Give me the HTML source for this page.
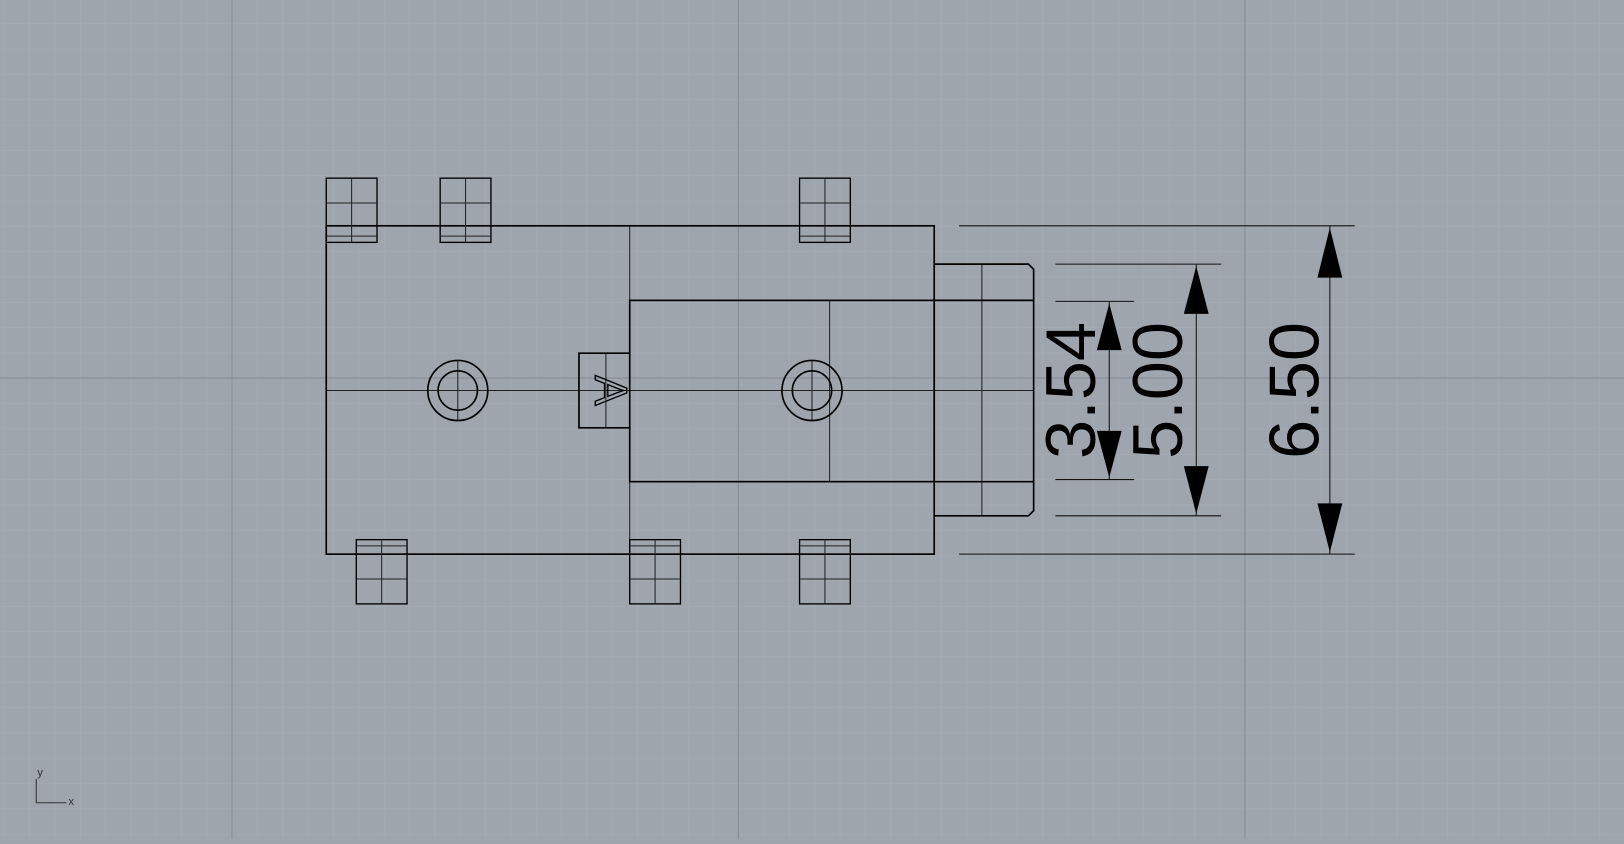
<!DOCTYPE html>
<html><head><style>html,body{margin:0;padding:0;background:#9ea5ac;overflow:hidden}</style></head>
<body>
<svg width="1624" height="839" viewBox="0 0 1568 810" preserveAspectRatio="none" xmlns="http://www.w3.org/2000/svg">
<defs>
<pattern id="g" x="224" y="365" width="24.45" height="24.45" patternUnits="userSpaceOnUse">
<path d="M0 0H24.45M0 0V24.45" stroke="#a6adb4" stroke-width="1" fill="none"/>
</pattern>
</defs>
<rect width="1568" height="810" fill="#9ea5ac"/>
<rect width="1568" height="810" fill="url(#g)"/>
<g stroke="#878e95" stroke-width="1">
<line x1="224" y1="0" x2="224" y2="810"/><line x1="713" y1="0" x2="713" y2="810"/><line x1="1202" y1="0" x2="1202" y2="810"/>
<line x1="0" y1="365" x2="1568" y2="365"/>
</g>
<g fill="none" stroke="#000">
<!-- thin lines -->
<g stroke-width="1" stroke="#222">
<line x1="608" y1="218" x2="608" y2="535"/>
<line x1="801" y1="290" x2="801" y2="465"/>
<line x1="315" y1="377" x2="998" y2="377"/>
<line x1="948" y1="255" x2="948" y2="498"/>
<line x1="585" y1="341" x2="585" y2="413"/>
<line x1="442" y1="348" x2="442" y2="406"/><line x1="784" y1="348" x2="784" y2="406"/>
</g>
<g stroke-width="1.6">
<rect x="315" y="218" width="587" height="317"/>
<rect x="608" y="290" width="294" height="175"/>
<path d="M902 255H993L998 260V493L993 498H902"/>
<line x1="902" y1="290" x2="998" y2="290"/><line x1="902" y1="465" x2="998" y2="465"/>
<path d="M608 341H559V413H608"/>
<circle cx="442" cy="377" r="29"/><circle cx="442" cy="377" r="19"/>
<circle cx="784" cy="377" r="29"/><circle cx="784" cy="377" r="19"/>
</g>
<!-- top tabs -->
<g stroke-width="1.3">
<rect x="315" y="172" width="49" height="62"/><rect x="425" y="172" width="49" height="62"/><rect x="772" y="172" width="49" height="62"/>
<rect x="344" y="521" width="49" height="62"/><rect x="608" y="521" width="49" height="62"/><rect x="772" y="521" width="49" height="62"/>
</g>
<g stroke-width="1" stroke="#222">
<path d="M339.5 172V234M449.5 172V234M796.5 172V234M368.5 521V583M632.5 521V583M796.5 521V583"/>
<path d="M315 196H364M425 196H474M772 196H821M315 228H364M425 228H474M772 228H821"/>
<path d="M344 527H393M608 527H657M772 527H821M344 559H393M608 559H657M772 559H821"/>
</g>
<!-- dimensions -->
<g stroke-width="1" stroke="#111">
<line x1="926" y1="218" x2="1308" y2="218"/><line x1="926" y1="535" x2="1308" y2="535"/>
<line x1="1019" y1="255" x2="1179" y2="255"/><line x1="1019" y1="498" x2="1179" y2="498"/>
<line x1="1019" y1="291" x2="1095" y2="291"/><line x1="1019" y1="463" x2="1095" y2="463"/>
<line x1="1284" y1="218" x2="1284" y2="535"/>
<line x1="1155" y1="255" x2="1155" y2="498"/>
<line x1="1071" y1="291" x2="1071" y2="463"/>
</g>
</g>
<g fill="#000">
<path d="M1284 220L1272 268H1296Z"/><path d="M1284 533L1272 486H1296Z"/>
<path d="M1155 257L1143 303H1167Z"/><path d="M1155 496L1143 450H1167Z"/>
<path d="M1071 293L1059 338H1083Z"/><path d="M1071 461L1059 416H1083Z"/>
</g>
<g font-family="Liberation Sans, sans-serif" font-size="68" fill="#000" text-anchor="middle">
<text transform="translate(1273,377) rotate(-90)">6.50</text>
<text transform="translate(1141,377) rotate(-90)">5.00</text>
<text transform="translate(1057,377) rotate(-90)">3.54</text>
</g>
<text transform="translate(575,377) rotate(90)" font-family="Liberation Sans, sans-serif" font-size="44" fill="none" stroke="#000" stroke-width="1.3" text-anchor="middle">A</text>
<g stroke="#333" stroke-width="1" fill="none"><path d="M35 752V775H64"/></g>
<text x="36" y="749" font-family="Liberation Sans, sans-serif" font-size="11" fill="#333">y</text>
<text x="66" y="777" font-family="Liberation Sans, sans-serif" font-size="11" fill="#333">x</text>
</svg>
</body></html>
